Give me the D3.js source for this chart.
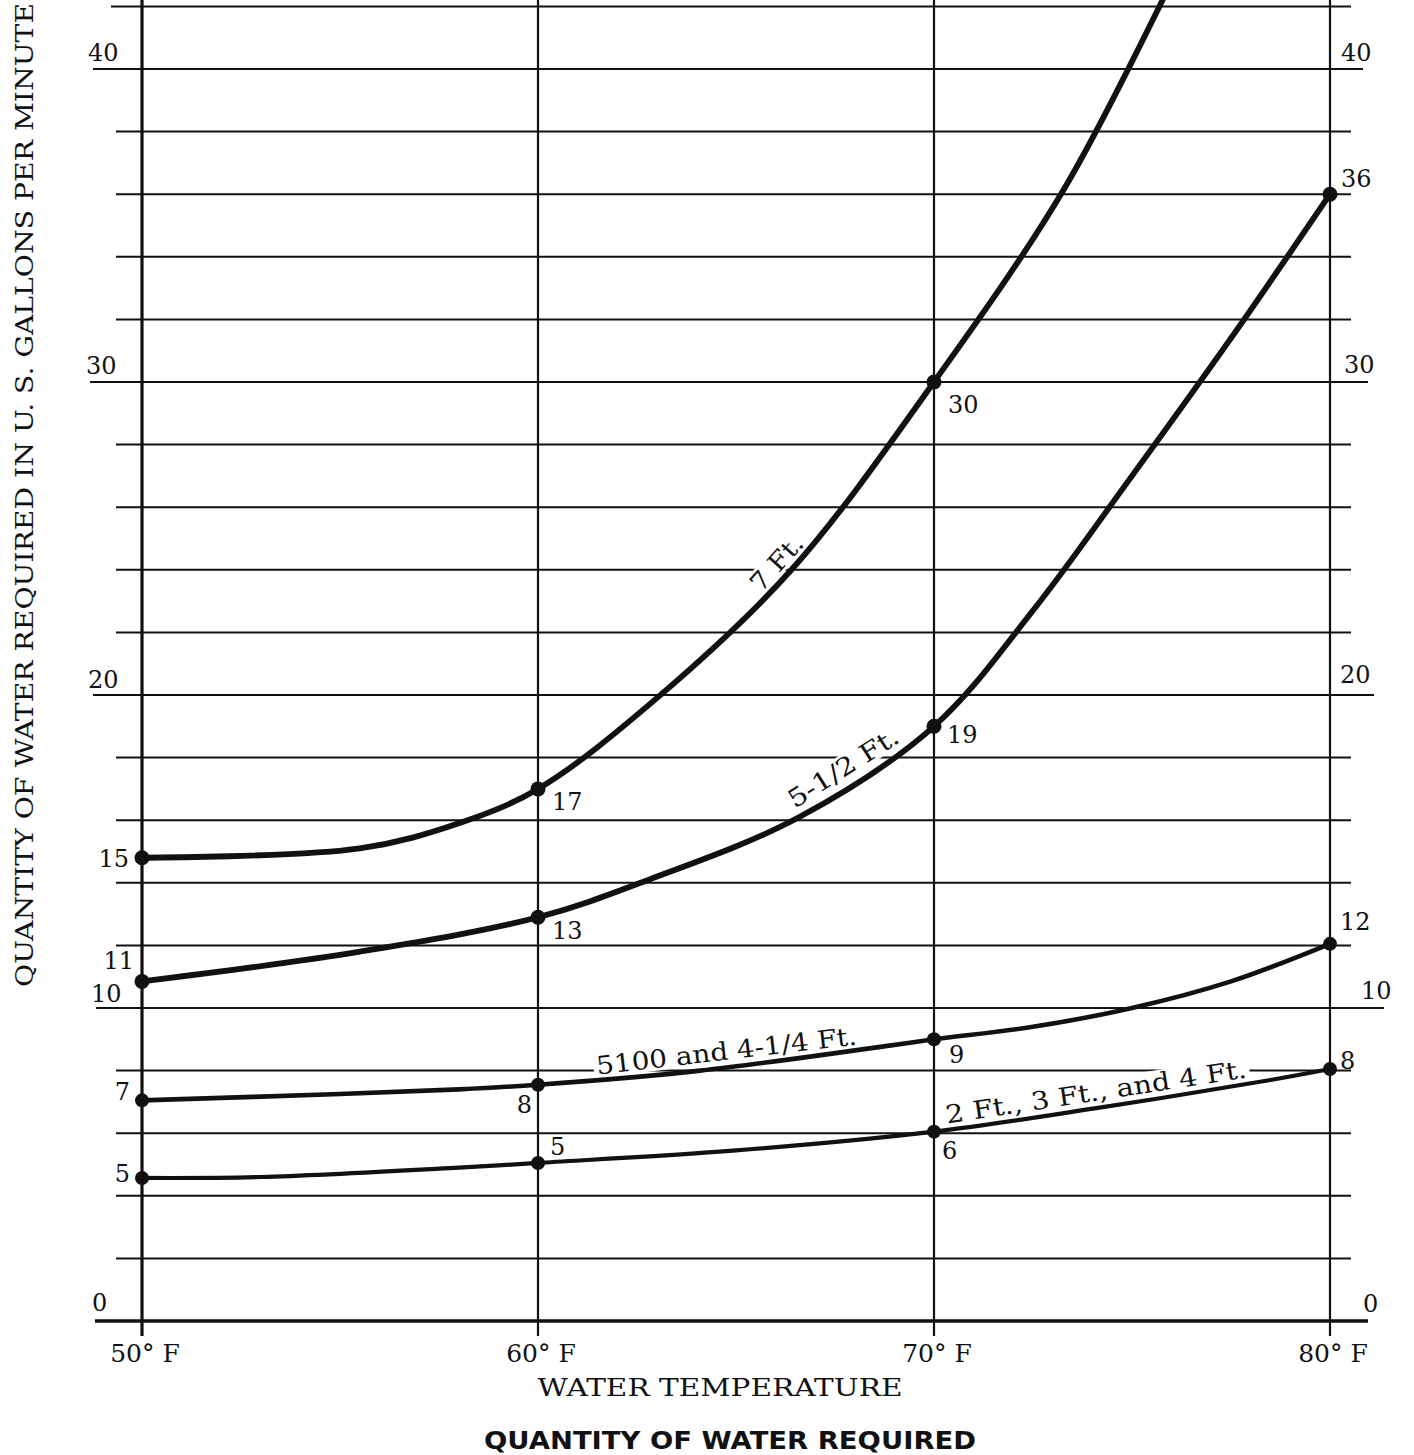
<!DOCTYPE html>
<html>
<head>
<meta charset="utf-8">
<script src="https://cdn.jsdelivr.net/npm/d3@7"></script>
<style>
html, body { margin: 0; padding: 0; background: #fff; }
svg { display: block; }
</style>
</head>
<body>
<svg id="chart" width="1414" height="1455"></svg>
<script>
// ---------------- DATA ----------------
const temperatures = [50, 60, 70, 80];
const xTickLabels = ["50° F", "60° F", "70° F", "80° F"];
const yTickValues = [0, 10, 20, 30, 40];
const yTickLabels = ["0", "10", "20", "30", "40"];
const gridValues = [0, 2, 4, 6, 8, 10, 12, 14, 16, 18, 20, 22, 24, 26, 28, 30, 32, 34, 36, 38, 40, 42];
const seriesNames = ["7 Ft.", "5-1/2 Ft.", "5100 and 4-1/4 Ft.", "2 Ft., 3 Ft., and 4 Ft."];

// traced curves (temperature °F -> gallons per minute)
const ft7Temps   = [50, 55.5, 58, 60, 63, 66.4, 70, 73.3, 76];
const ft7Values  = [14.8, 15.1, 15.9, 17.0, 19.9, 24.0, 30.0, 36.2, 42.8];
const ft55Temps  = [50, 55.5, 60, 62.8, 66.6, 70, 72.5, 75, 77.5, 80];
const ft55Values = [10.85, 11.8, 12.9, 14.1, 16.1, 19.0, 22.7, 27.0, 31.4, 36.0];
const ft5100Temps  = [50, 55, 58, 60, 64.1, 68.6, 70, 72.5, 75, 77.5, 80];
const ft5100Values = [7.05, 7.25, 7.4, 7.55, 8.0, 8.75, 9.0, 9.4, 10.0, 10.85, 12.05];
const ft2Temps  = [50, 53, 58, 60, 65, 70, 74.1, 78.5, 80];
const ft2Values = [4.57, 4.6, 4.9, 5.05, 5.45, 6.05, 6.8, 7.7, 8.05];

// marked points and their printed labels
const ft7PointTemps = [50, 60, 70];
const ft7PointValues = [14.8, 17.0, 30.0];
const ft7PointLabels = ["15", "17", "30"];
const ft55PointValues = [10.85, 12.9, 19.0, 36.0];
const ft55PointLabels = ["11", "13", "19", "36"];
const ft5100PointValues = [7.05, 7.55, 9.0, 12.05];
const ft5100PointLabels = ["7", "8", "9", "12"];
const ft2PointValues = [4.57, 5.05, 6.05, 8.05];
const ft2PointLabels = ["5", "5", "6", "8"];

// ---------------- LAYOUT ----------------
const svg = d3.select("#chart");
const x = d3.scaleLinear().domain([50, 80]).range([142, 1330]);
const y = d3.scaleLinear().domain([0, 40]).range([1321, 69]);
const INK = "#111";
const SERIF = "'DejaVu Serif', 'Liberation Serif', serif";

const series = [
  { name: seriesNames[0], temps: ft7Temps, values: ft7Values, pts: ft7PointTemps, pv: ft7PointValues, pl: ft7PointLabels, width: 5.8, r: 7.5,
    labelOff: [{dx: -13, dy: 9, a: "end"}, {dx: 14, dy: 21, a: "start"}, {dx: 14, dy: 31, a: "start"}],
    text: {t0: 65.6, t1: 67.0, off: 6, len: 66} },
  { name: seriesNames[1], temps: ft55Temps, values: ft55Values, pts: temperatures, pv: ft55PointValues, pl: ft55PointLabels, width: 5.8, r: 7.5,
    labelOff: [{dx: -8, dy: -12, a: "end"}, {dx: 14, dy: 22, a: "start"}, {dx: 13, dy: 17, a: "start"}, {dx: 11, dy: -7, a: "start"}],
    text: {t0: 66.5, t1: 69.4, off: 9, len: 126} },
  { name: seriesNames[2], temps: ft5100Temps, values: ft5100Values, pts: temperatures, pv: ft5100PointValues, pl: ft5100PointLabels, width: 4.6, r: 7,
    labelOff: [{dx: -12, dy: 0, a: "end"}, {dx: -6, dy: 28, a: "end"}, {dx: 15, dy: 24, a: "start"}, {dx: 10, dy: -14, a: "start"}],
    text: {t0: 61.5, t1: 68.1, off: 5.5, len: 262} },
  { name: seriesNames[3], temps: ft2Temps, values: ft2Values, pts: temperatures, pv: ft2PointValues, pl: ft2PointLabels, width: 4.2, r: 7,
    labelOff: [{dx: -12, dy: 4, a: "end"}, {dx: 12, dy: -8, a: "start"}, {dx: 8, dy: 27, a: "start"}, {dx: 10, dy: 0, a: "start"}],
    text: {t0: 70.4, t1: 77.9, off: 6.5, len: 304} }
];

// ---------------- GRID ----------------
const majorExtent = {0: [95, 1368], 10: [96, 1384], 20: [93, 1374], 30: [90, 1368], 40: [93, 1363]};
const gGrid = svg.append("g");
gGrid.selectAll("line.h").data(gridValues).join("line")
  .attr("class", "h")
  .attr("x1", v => majorExtent[v] ? majorExtent[v][0] : (v === 42 ? 111 : 116))
  .attr("x2", v => majorExtent[v] ? majorExtent[v][1] : 1351)
  .attr("y1", v => y(v)).attr("y2", v => y(v))
  .attr("stroke", INK)
  .attr("stroke-width", v => v === 0 ? 3.5 : 2);

gGrid.selectAll("line.v").data(temperatures).join("line")
  .attr("class", "v")
  .attr("x1", t => x(t)).attr("x2", t => x(t))
  .attr("y1", 0).attr("y2", 1336)
  .attr("stroke", INK)
  .attr("stroke-width", t => t === 50 ? 3.2 : 2.2);

// ---------------- AXIS LABELS ----------------
const leftLab = {0: {x: 92, dy: -10}, 10: {x: 91, dy: -6}, 20: {x: 88, dy: -7}, 30: {x: 86, dy: -8}, 40: {x: 88, dy: -8}};
const rightLab = {0: {x: 1363, dy: -9}, 10: {x: 1361, dy: -9}, 20: {x: 1340, dy: -12}, 30: {x: 1344, dy: -9}, 40: {x: 1341, dy: -8}};
const gAx = svg.append("g").attr("font-family", SERIF).attr("font-size", 24).attr("fill", INK);
gAx.selectAll("text.yl").data(yTickValues).join("text")
  .attr("class", "yl")
  .attr("x", v => leftLab[v].x).attr("y", v => y(v) + leftLab[v].dy)
  .text((v, i) => yTickLabels[i]);
gAx.selectAll("text.yr").data(yTickValues).join("text")
  .attr("class", "yr")
  .attr("x", v => rightLab[v].x).attr("y", v => y(v) + rightLab[v].dy)
  .text((v, i) => yTickLabels[i]);
gAx.selectAll("text.xl").data(temperatures).join("text")
  .attr("class", "xl")
  .attr("x", t => x(t) + 3).attr("y", 1362)
  .attr("text-anchor", "middle").attr("font-size", 25)
  .text((t, i) => xTickLabels[i]);

svg.append("text")
  .attr("x", 720).attr("y", 1396)
  .attr("text-anchor", "middle")
  .attr("font-family", SERIF).attr("font-size", 25).attr("fill", INK)
  .attr("textLength", 365).attr("lengthAdjust", "spacingAndGlyphs")
  .text("WATER TEMPERATURE");

svg.append("text")
  .attr("transform", "translate(33,495) rotate(-90)")
  .attr("text-anchor", "middle")
  .attr("font-family", SERIF).attr("font-size", 25).attr("fill", INK)
  .attr("textLength", 984).attr("lengthAdjust", "spacingAndGlyphs")
  .text("QUANTITY OF WATER REQUIRED IN U. S. GALLONS PER MINUTE");

svg.append("text")
  .attr("x", 730).attr("y", 1449)
  .attr("text-anchor", "middle")
  .attr("font-family", "'DejaVu Sans', sans-serif").attr("font-weight", "bold")
  .attr("font-size", 25).attr("fill", INK)
  .attr("textLength", 492).attr("lengthAdjust", "spacingAndGlyphs")
  .text("QUANTITY OF WATER REQUIRED");

// ---------------- CURVES ----------------
const line = d3.line()
  .x(d => x(d[0])).y(d => y(d[1]))
  .curve(d3.curveCatmullRom.alpha(0.5));

const gMask = svg.append("g");
const gCurves = svg.append("g");
const gText = svg.append("g");

series.forEach(s => {
  const pts = s.temps.map((t, i) => [t, s.values[i]]);
  const path = gCurves.append("path")
    .attr("d", line(pts))
    .attr("fill", "none")
    .attr("stroke", INK)
    .attr("stroke-width", s.width)
    .attr("stroke-linecap", "round");

  // curve label placed on the chord between two points of the drawn curve
  const node = path.node();
  const total = node.getTotalLength();
  function atX(px) {
    let lo = 0, hi = total;
    for (let k = 0; k < 40; k++) {
      const mid = (lo + hi) / 2;
      if (node.getPointAtLength(mid).x < px) lo = mid; else hi = mid;
    }
    return node.getPointAtLength((lo + hi) / 2);
  }
  const p0 = atX(x(s.text.t0)), p1 = atX(x(s.text.t1));
  const dx = p1.x - p0.x, dy = p1.y - p0.y, L = Math.hypot(dx, dy);
  const ux = dx / L, uy = dy / L;
  const nx = uy, ny = -ux; // upward normal
  const cx = (p0.x + p1.x) / 2 + nx * s.text.off;
  const cy = (p0.y + p1.y) / 2 + ny * s.text.off;
  const ang = Math.atan2(dy, dx) * 180 / Math.PI;
  const tf = `translate(${cx},${cy}) rotate(${ang})`;
  const label = gText.append("text")
    .attr("transform", tf)
    .attr("text-anchor", "middle")
    .attr("font-family", SERIF).attr("font-size", 25)
    .attr("textLength", s.text.len).attr("lengthAdjust", "spacingAndGlyphs")
    .attr("fill", INK)
    .text(s.name);
  const bb = label.node().getBBox();
  // white paper behind the printed label (breaks the grid lines like the original)
  gMask.append("rect")
    .attr("transform", tf)
    .attr("x", bb.x - 3).attr("width", bb.width + 6)
    .attr("y", -21).attr("height", 24)
    .attr("fill", "#fff");

  // marked points
  const mp = s.pts.map((t, i) => ({t, v: s.pv[i], label: s.pl[i], off: s.labelOff[i]}));
  gCurves.selectAll(null).data(mp).join("circle")
    .attr("cx", d => x(d.t)).attr("cy", d => y(d.v)).attr("r", s.r)
    .attr("fill", INK);
  gText.selectAll(null).data(mp).join("text")
    .attr("x", d => x(d.t) + d.off.dx).attr("y", d => y(d.v) + d.off.dy)
    .attr("text-anchor", d => d.off.a)
    .attr("font-family", SERIF).attr("font-size", 24).attr("fill", INK)
    .text(d => d.label);
});
</script>
</body>
</html>
